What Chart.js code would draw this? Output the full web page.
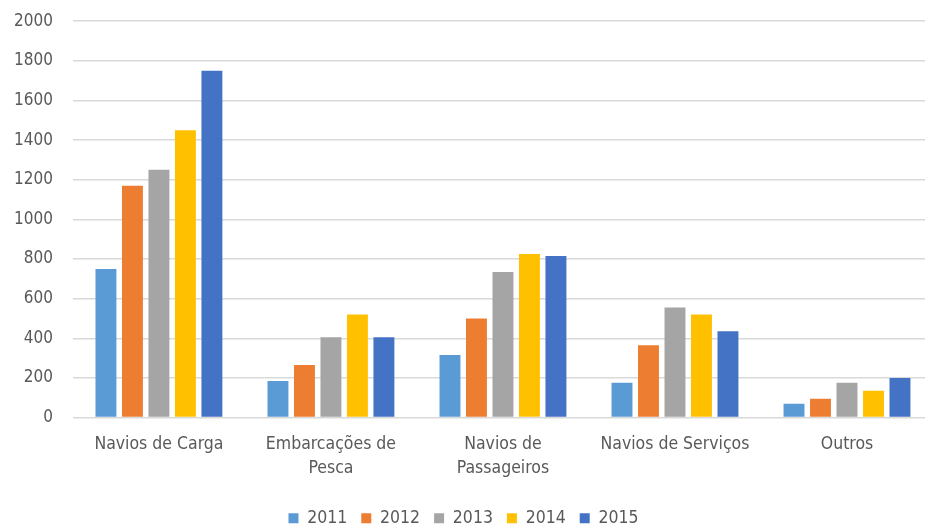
<!DOCTYPE html>
<html>
<head>
<meta charset="utf-8">
<script src="https://cdn.jsdelivr.net/npm/chart.js@4"></script>
<style>
  html, body { margin: 0; padding: 0; background: #fff; overflow: hidden; }
  /* the y-tick padding leaves an empty strip above and left of the plot; pull it in */
  #wrap { width: 946px; height: 546px; margin-top: -9px; margin-left: -6px; }
</style>
</head>
<body>
<div id="wrap"><canvas id="chart"></canvas></div>
<script>
const categories = [
  "Navios de Carga",
  ["Embarcações de", "Pesca"],
  ["Navios de", "Passageiros"],
  "Navios de Serviços",
  "Outros",
];
const years = ["2011", "2012", "2013", "2014", "2015"];
const colors = ["#5B9BD5", "#ED7D31", "#A5A5A5", "#FFC000", "#4472C4"];

const v2011 = [750, 185, 315, 175, 70];
const v2012 = [1170, 265, 500, 365, 95];
const v2013 = [1250, 405, 735, 555, 175];
const v2014 = [1450, 520, 825, 520, 135];
const v2015 = [1750, 405, 815, 435, 200];

const series = [v2011, v2012, v2013, v2014, v2015];
const fontFamily = "'DejaVu Sans Condensed', sans-serif";
const textColor = "#595959";

const ctx = document.getElementById("chart").getContext("2d");

new Chart(ctx, {
  type: "bar",
  data: {
    labels: categories,
    datasets: series.map((values, i) => ({
      label: years[i],
      data: values,
      backgroundColor: colors[i],
      categoryPercentage: 0.77,
      barPercentage: 0.79,
    })),
  },
  options: {
    responsive: true,
    maintainAspectRatio: false,
    animation: false,
    layout: {
      padding: { left: 0, right: 7, top: 0, bottom: 0 },
    },
    scales: {
      x: {
        grid: { display: false, drawTicks: false },
        border: { display: false },
        ticks: {
          color: textColor,
          font: { family: fontFamily, size: 17.5, lineHeight: 1.37 },
          padding: 15,
          maxRotation: 0,
          autoSkip: false,
        },
      },
      y: {
        min: 0,
        max: 2000,
        ticks: {
          stepSize: 200,
          color: textColor,
          font: { family: fontFamily, size: 17 },
          padding: 20,
          callback: (value) => String(value),
        },
        grid: { color: "#d9d9d9", lineWidth: 1.5, drawTicks: false },
        border: { display: false },
      },
    },
    plugins: {
      legend: {
        position: "bottom",
        labels: {
          color: textColor,
          font: { family: fontFamily, size: 17.5 },
          boxWidth: 10,
          boxHeight: 10,
          padding: 14,
        },
      },
      title: { display: false },
      tooltip: { enabled: false },
    },
  },
});
</script>
</body>
</html>
